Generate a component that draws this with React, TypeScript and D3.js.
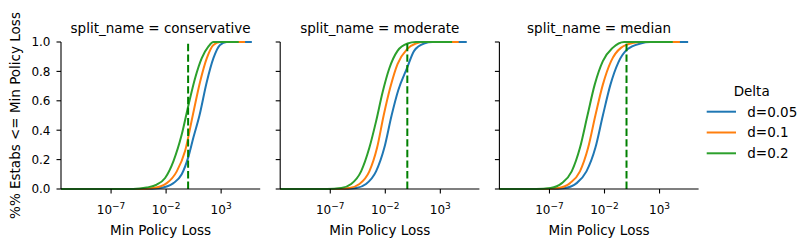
import React from "react";
import * as d3 from "d3";

// ---- data (log10 of Min Policy Loss, and ECDF proportion) ----
const splitNames = ["conservative", "moderate", "median"];
const deltaLabels = ["d=0.05", "d=0.1", "d=0.2"];
const deltaColors = ["#1f77b4", "#ff7f0e", "#2ca02c"];
const xTickExponents = [-7, -2, 3];
const yTickValues = [0, 0.2, 0.4, 0.6, 0.8, 1.0];
const thresholdLoss = 1;
const xDomainLog10 = [-11.55, 6.55];

// conservative
const consBlueLog10 = [-11.55, -4.0, -2.55, -1.33, -0.58, 0.03, 0.48, 1.03, 1.7, 2.3, 2.9, 3.5, 5.79];
const consBlueY = [0, 0, 0.007, 0.04, 0.1, 0.22, 0.35, 0.5, 0.73, 0.89, 0.98, 1, 1];
const consOrangeLog10 = [-11.55, -4.5, -3.15, -1.94, -1.03, -0.27, 0.42, 1.09, 1.7, 2.3, 2.9, 5.18];
const consOrangeY = [0, 0, 0.007, 0.04, 0.12, 0.26, 0.5, 0.73, 0.89, 0.98, 1, 1];
const consGreenLog10 = [-11.55, -5.0, -3.76, -2.85, -2.09, -1.33, -0.58, 0.03, 0.64, 1.24, 1.85, 2.3, 4.6];
const consGreenY = [0, 0, 0.01, 0.03, 0.075, 0.19, 0.37, 0.57, 0.755, 0.89, 0.97, 1, 1];

// moderate
const modBlueLog10 = [-11.55, -6.0, -4.65, -3.75, -2.84, -2.09, -1.43, -0.83, -0.04, 0.62, 1.52, 2.28, 5.4];
const modBlueY = [0, 0, 0.007, 0.034, 0.12, 0.28, 0.5, 0.67, 0.82, 0.94, 0.99, 1, 1];
const modOrangeLog10 = [-11.55, -6.6, -5.25, -4.35, -3.45, -2.75, -2.15, -1.55, -0.89, -0.04, 0.77, 1.52, 4.67];
const modOrangeY = [0, 0, 0.007, 0.034, 0.12, 0.28, 0.5, 0.69, 0.85, 0.95, 0.99, 1, 1];
const modGreenLog10 = [-11.55, -7.3, -6.0, -5.1, -4.2, -3.45, -2.84, -2.24, -1.64, -0.89, 0.02, 0.77, 4.07];
const modGreenY = [0, 0, 0.007, 0.034, 0.12, 0.28, 0.46, 0.66, 0.82, 0.94, 0.99, 1, 1];

// median
const medBlueLog10 = [-11.55, -6.9, -5.57, -4.53, -3.64, -2.83, -2.15, -1.46, -0.75, 0.08, 1.27, 2.17, 5.6];
const medBlueY = [0, 0, 0.007, 0.04, 0.12, 0.28, 0.5, 0.71, 0.86, 0.95, 0.99, 1, 1];
const medOrangeLog10 = [-11.55, -7.5, -6.17, -5.13, -4.23, -3.49, -2.83, -2.15, -1.4, -0.51, 0.68, 1.3, 4.85];
const medOrangeY = [0, 0, 0.007, 0.04, 0.12, 0.28, 0.5, 0.71, 0.87, 0.96, 0.995, 1, 1];
const medGreenLog10 = [-11.55, -8.2, -6.9, -5.87, -4.98, -4.23, -3.55, -2.89, -2.15, -1.26, -0.21, 4.2];
const medGreenY = [0, 0, 0.007, 0.04, 0.12, 0.28, 0.5, 0.71, 0.87, 0.96, 1, 1];

const seriesByPanel = [
  [[consBlueLog10, consBlueY], [consOrangeLog10, consOrangeY], [consGreenLog10, consGreenY]],
  [[modBlueLog10, modBlueY], [modOrangeLog10, modOrangeY], [modGreenLog10, modGreenY]],
  [[medBlueLog10, medBlueY], [medOrangeLog10, medOrangeY], [medGreenLog10, medGreenY]],
];

// ---- layout ----
const W = 809;
const H = 247;
const panelLeft0 = 61;
const panelStep = 219.2;
const panelW = 199.2;
const top = 42;
const bottom = 189;
const FONT = "DejaVu Sans, Liberation Sans, sans-serif";
const tickLen = 4.5;

export default function App() {
  const y = d3.scaleLinear().domain([0, 1]).range([bottom, top]);
  return (
    <svg width={W} height={H} style={{ position: "absolute", left: 0, top: 0 }} fontFamily={FONT}>
      <rect width={W} height={H} fill="white" />
      {splitNames.map((name, pi) => {
        const left = panelLeft0 + pi * panelStep;
        const x = d3
          .scaleLog()
          .domain([Math.pow(10, xDomainLog10[0]), Math.pow(10, xDomainLog10[1])])
          .range([left, left + panelW]);
        const line = d3
          .line<[number, number]>()
          .x((d) => x(Math.pow(10, d[0])))
          .y((d) => y(d[1]))
          .curve(d3.curveMonotoneX);
        return (
          <g key={name}>
            <text x={left + panelW / 2} y={33} textAnchor="middle" fontSize={13.5} fill="black">
              {`split_name = ${name}`}
            </text>
            {seriesByPanel[pi].map(([lx, ly], si) => {
              const pts: [number, number][] = lx.map((v, i) => [v, ly[i]]);
              return (
                <path
                  key={si}
                  d={line(pts) || ""}
                  fill="none"
                  stroke={deltaColors[si]}
                  strokeWidth={2}
                  strokeLinejoin="round"
                />
              );
            })}
            <line
              x1={x(thresholdLoss)}
              x2={x(thresholdLoss)}
              y1={y(0)}
              y2={y(1)}
              stroke="#008000"
              strokeWidth={2}
              strokeDasharray="7.4,3.2"
            />
            <line x1={left} x2={left} y1={top} y2={bottom} stroke="black" strokeWidth={1.1} />
            <line x1={left} x2={left + panelW} y1={bottom} y2={bottom} stroke="black" strokeWidth={1.1} />
            {yTickValues.map((t) => (
              <g key={t}>
                <line x1={left - tickLen} x2={left} y1={y(t)} y2={y(t)} stroke="black" strokeWidth={1.1} />
                {pi === 0 && (
                  <text x={left - tickLen - 6} y={y(t) + 4.3} textAnchor="end" fontSize={12} fill="black">
                    {t.toFixed(1)}
                  </text>
                )}
              </g>
            ))}
            {xTickExponents.map((e) => {
              const px = x(Math.pow(10, e));
              return (
                <g key={e}>
                  <line x1={px} x2={px} y1={bottom} y2={bottom + tickLen} stroke="black" strokeWidth={1.1} />
                  <text x={px} y={214} textAnchor="middle" fontSize={12} fill="black">
                    10
                    <tspan dy={-5} fontSize={9}>
                      {e < 0 ? `\u2212${-e}` : `${e}`}
                    </tspan>
                  </text>
                </g>
              );
            })}
            <text x={left + panelW / 2} y={235} textAnchor="middle" fontSize={13.5} fill="black">
              Min Policy Loss
            </text>
          </g>
        );
      })}
      <text
        transform={`translate(20,${(top + bottom) / 2}) rotate(-90)`}
        textAnchor="middle"
        fontSize={13.5}
        fill="black"
      >
        %% Estabs &lt;= Min Policy Loss
      </text>
      <text x={751.7} y={96} textAnchor="middle" fontSize={13.5} fill="black">
        Delta
      </text>
      {deltaLabels.map((lab, i) => {
        const ly = 111.7 + i * 20.8;
        return (
          <g key={lab}>
            <line x1={706.7} x2={736} y1={ly} y2={ly} stroke={deltaColors[i]} strokeWidth={2} />
            <text x={747.3} y={ly + 4.8} fontSize={13.5} fill="black">
              {lab}
            </text>
          </g>
        );
      })}
    </svg>
  );
}
